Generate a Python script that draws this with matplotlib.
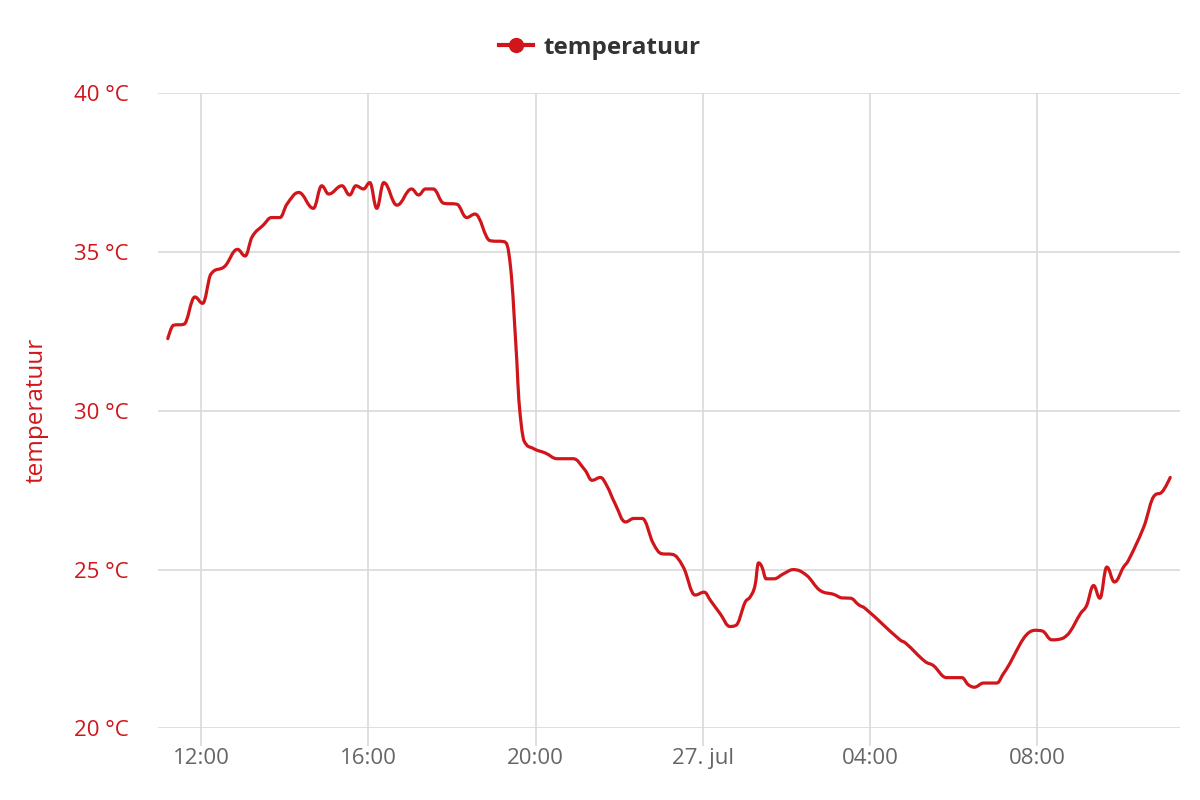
import numpy as np
import pandas as pd
import matplotlib
matplotlib.use('Agg')
import matplotlib.pyplot as plt
import matplotlib.dates as mdates
from matplotlib.path import Path
from matplotlib.patches import PathPatch
from matplotlib.lines import Line2D

plt.rcParams['font.family'] = ['Open Sans', 'DejaVu Sans']

# readings, starting 26 jul 11:12 (clock wraps past midnight into 27 jul)
times = ['11:12', '11:20', '11:35', '11:51', '12:02', '12:13', '12:34', '12:52',
         '13:03', '13:13', '13:29', '13:41', '13:53', '14:03', '14:20', '14:41',
         '14:53', '15:03', '15:22', '15:33', '15:42', '15:53', '16:02', '16:12',
         '16:22', '16:41', '17:02', '17:12', '17:22', '17:33', '17:48', '18:07',
         '18:21', '18:33', '18:55', '19:15', '19:24', '19:33', '19:36', '19:43',
         '19:57', '20:14', '20:31', '20:54', '21:11', '21:21', '21:33', '21:42',
         '21:54', '22:09', '22:21', '22:33', '22:49', '23:01', '23:16', '23:32',
         '23:49', '00:02', '00:11', '00:25', '00:39', '00:47', '01:01', '01:08',
         '01:15', '01:20', '01:25', '01:31', '01:42', '01:56', '02:10', '02:29',
         '02:48', '03:08', '03:20', '03:32', '03:44', '03:53', '04:43', '04:51',
         '05:19', '05:31', '05:50', '06:12', '06:21', '06:30', '06:43', '07:02',
         '07:12', '07:57', '08:07', '08:21', '08:38', '08:47', '09:02', '09:11',
         '09:21', '09:30', '09:40', '09:51', '10:04', '10:11', '10:33', '10:49',
         '10:59', '11:11']
temps = [32.27, 32.69, 32.72, 33.58, 33.38, 34.27, 34.55, 35.08,
         34.87, 35.47, 35.84, 36.08, 36.08, 36.50, 36.87, 36.37,
         37.08, 36.82, 37.08, 36.79, 37.08, 36.98, 37.18, 36.37,
         37.18, 36.47, 36.98, 36.79, 36.98, 36.98, 36.53, 36.50,
         36.08, 36.19, 35.35, 35.32, 34.53, 31.59, 30.33, 29.07,
         28.81, 28.67, 28.49, 28.49, 28.13, 27.81, 27.90, 27.65,
         27.08, 26.50, 26.61, 26.61, 25.82, 25.50, 25.48, 25.08,
         24.20, 24.29, 24.03, 23.61, 23.21, 23.24, 23.98, 24.14,
         24.50, 25.21, 25.08, 24.71, 24.71, 24.87, 25.00, 24.82,
         24.35, 24.22, 24.11, 24.10, 23.89, 23.78, 22.79, 22.69,
         22.11, 21.98, 21.60, 21.60, 21.38, 21.30, 21.43, 21.43,
         21.74, 23.09, 23.07, 22.79, 22.85, 23.04, 23.61, 23.87,
         24.50, 24.10, 25.08, 24.61, 25.08, 25.29, 26.34, 27.34,
         27.44, 27.90]

y_ticks = [20, 25, 30, 35, 40]
series_name = 'temperatuur'

RED = '#d0161b'
GRID = '#d9d9d9'

# build datetimes, roll over to the next day when the clock wraps
stamps = []
day = pd.Timestamp('2020-07-26')
prev = None
for t in times:
    ts = pd.Timestamp(f'{day.date()} {t}')
    if prev is not None and ts < prev:
        day = day + pd.Timedelta(days=1)
        ts = pd.Timestamp(f'{day.date()} {t}')
    stamps.append(ts)
    prev = ts
x = mdates.date2num(stamps)
y = np.array(temps)


def spline_path(xs, ys, smoothing=1.5):
    # highcharts-like spline: cubic bezier through each point
    denom = smoothing + 1
    n = len(xs)
    left = [(xs[0], ys[0])] * n
    right = [(xs[0], ys[0])] * n
    for i in range(n):
        px, py = xs[i], ys[i]
        if i == 0 or i == n - 1:
            left[i] = right[i] = (px, py)
            continue
        lx, ly = xs[i - 1], ys[i - 1]
        nx, ny = xs[i + 1], ys[i + 1]
        lcx = (smoothing * px + lx) / denom
        lcy = (smoothing * py + ly) / denom
        rcx = (smoothing * px + nx) / denom
        rcy = (smoothing * py + ny) / denom
        if rcx != lcx:
            corr = (rcy - lcy) * (rcx - px) / (rcx - lcx) + py - rcy
            lcy += corr
            rcy += corr
        if lcy > ly and lcy > py:
            lcy = max(ly, py)
            rcy = 2 * py - lcy
        elif lcy < ly and lcy < py:
            lcy = min(ly, py)
            rcy = 2 * py - lcy
        if rcy > ny and rcy > py:
            rcy = max(ny, py)
            lcy = 2 * py - rcy
        elif rcy < ny and rcy < py:
            rcy = min(ny, py)
            lcy = 2 * py - rcy
        left[i] = (lcx, lcy)
        right[i] = (rcx, rcy)
    verts = [(xs[0], ys[0])]
    codes = [Path.MOVETO]
    for i in range(1, n):
        verts += [right[i - 1], left[i], (xs[i], ys[i])]
        codes += [Path.CURVE4] * 3
    return Path(verts, codes)


fig = plt.figure(figsize=(12, 8), dpi=100)
ax = fig.add_axes([0.1317, 0.0894, 0.9833 - 0.1317, 0.88375 - 0.0894])

ax.add_patch(PathPatch(spline_path(x, y), facecolor='none', edgecolor=RED,
                       lw=2.3, capstyle='round', joinstyle='round', zorder=3))

x0 = mdates.date2num(pd.Timestamp('2020-07-26 10:58'))
x1 = mdates.date2num(pd.Timestamp('2020-07-27 11:25'))
ax.set_xlim(x0, x1)
ax.set_ylim(20, 40)

ax.set_yticks(y_ticks)
ax.set_yticklabels([f'{v} °C' for v in y_ticks])
xt = pd.date_range('2020-07-26 12:00', periods=6, freq='4h')
ax.set_xticks(mdates.date2num(xt))
ax.set_xticklabels(['27. jul' if t.hour == 0 else t.strftime('%H:%M') for t in xt])

for s in ax.spines.values():
    s.set_visible(False)
ax.grid(True, color=GRID, lw=1.2)
ax.tick_params(axis='x', length=13, width=1.2, color=GRID, labelcolor='#666666',
               labelsize=16, pad=1)
ax.tick_params(axis='y', length=0, labelcolor=RED, labelsize=16, pad=21)
ax.set_ylabel(series_name, color=RED, fontsize=17.5)
ax.yaxis.set_label_coords(-0.107, 0.5)

handle = Line2D([], [], color=RED, lw=3, marker='o', markersize=10)
fig.legend([handle], [series_name], loc='center', bbox_to_anchor=(0.5, 0.94),
           frameon=False, handlelength=1.4, handletextpad=0.45,
           prop={'weight': 'bold', 'size': 17.5}, labelcolor='#333333')

plt.savefig('out.png', dpi=100)
